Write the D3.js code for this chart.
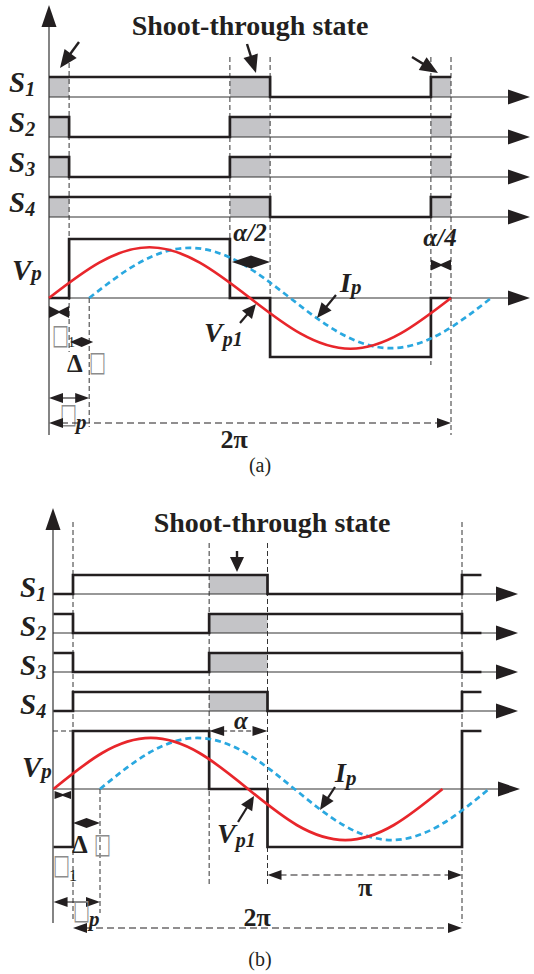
<!DOCTYPE html>
<html><head><meta charset="utf-8">
<script src="https://cdn.jsdelivr.net/npm/d3@7"></script>
<style>body{margin:0;background:#fff}svg{display:block}</style>
</head><body>
<script>
// ---------------- DATA (phase in degrees, levels) ----------------
const switchSubs = ["1", "2", "3", "4"];
const titleText = "Shoot-through state";

// Panel (a)
const aEnd = 360;
const aS1 = [[0, 1], [198, 0], [342, 1]];
const aS2 = [[0, 1], [18, 0], [162, 1]];
const aS3 = [[0, 1], [18, 0], [162, 1]];
const aS4 = [[0, 1], [198, 0], [342, 1]];
const aShade = [[0, 18], [162, 198], [342, 360]];
const aVp = [[0, 0], [18, 1], [162, 0], [198, -1], [342, 0]];
const aVp1 = [[0, 0], [45, 0.6], [90, 0.86], [135, 0.6], [180, 0], [225, -0.6], [270, -0.86], [315, -0.6], [360, 0]];
const aIp = [[36, 0], [81, 0.6], [126, 0.85], [171, 0.6], [216, 0], [261, -0.6], [306, -0.85], [351, -0.6], [396, 0]];
const aGuides = [18, 36, 162, 198, 342, 360];

// Panel (b)
const bStart = -18, bEnd = 378;
const bS1 = [[-18, 0], [0, 1], [180, 0], [360, 1]];
const bS2 = [[-18, 1], [0, 0], [126, 1], [360, 0]];
const bS3 = [[-18, 1], [0, 0], [126, 1], [360, 0]];
const bS4 = [[-18, 0], [0, 1], [180, 0], [360, 1]];
const bShade = [[126, 180]];
const bVp = [[-18, -1], [0, 1], [126, 0], [180, -1], [360, 1]];
const bVp1 = [[-18, 0], [27, 0.62], [72, 0.88], [117, 0.62], [162, 0], [207, -0.62], [252, -0.88], [297, -0.62], [342, 0]];
const bIp = [[25, 0], [70, 0.62], [115, 0.88], [160, 0.62], [205, 0], [250, -0.62], [295, -0.88], [340, -0.62], [385, 0]];
const bGuides = [0, 25, 126, 180, 360];

// ---------------- DRAWING ----------------
const W = 534, H = 974;
const ink = "#231f20", shadeCol = "#c4c4c7", red = "#e8262b", blue = "#2aa8e0", boxCol = "#8c8c8c";
const serif = "'Liberation Serif','Times New Roman',serif";
const svg = d3.select("body").append("svg").attr("width", W).attr("height", H);

function headPath(x1, y1, x2, y2, len, hw) {
  const a = Math.atan2(y2 - y1, x2 - x1), c = Math.cos(a), s = Math.sin(a);
  const bx = x2 - len * c, by = y2 - len * s;
  return `M${x2},${y2}L${bx - hw * s},${by + hw * c}L${bx + hw * s},${by - hw * c}Z`;
}
function head(g, x1, y1, x2, y2, len, hw) {
  g.append("path").attr("d", headPath(x1, y1, x2, y2, len, hw)).attr("fill", ink);
}
function line(g, x1, y1, x2, y2, w, dash, col) {
  const l = g.append("line").attr("x1", x1).attr("y1", y1).attr("x2", x2).attr("y2", y2)
    .attr("stroke", col || ink).attr("stroke-width", w);
  if (dash) l.attr("stroke-dasharray", dash);
  return l;
}
function pointer(g, x1, y1, x2, y2, len, hw, w) {
  const a = Math.atan2(y2 - y1, x2 - x1);
  line(g, x1, y1, x2 - (len - 2) * Math.cos(a), y2 - (len - 2) * Math.sin(a), w || 2.4);
  head(g, x1, y1, x2, y2, len, hw);
}
function dimOut(g, x1, x2, y, len, hw, dash) {
  line(g, x1 + len - 2, y, x2 - len + 2, y, 1.1, dash);
  head(g, x2, y, x1, y, len, hw);
  head(g, x1, y, x2, y, len, hw);
}
function diamond(g, x1, x2, y, hw) {
  const m = (x1 + x2) / 2;
  g.append("path").attr("d", `M${x1},${y}L${m},${y - hw}L${x2},${y}L${m},${y + hw}Z`).attr("fill", ink);
}
function bowtie(g, x1, x2, y, hw) {
  const m = (x1 + x2) / 2;
  g.append("path").attr("d", `M${x1},${y - hw}L${m},${y - 1}L${x2},${y - hw}L${x2},${y + hw}L${m},${y + 1}L${x1},${y + hw}Z`).attr("fill", ink);
}
function txt(g, x, y, s, size, opts = {}) {
  const t = g.append("text").attr("x", x).attr("y", y).text(s)
    .attr("font-family", opts.family || serif).attr("font-size", size)
    .attr("font-weight", opts.weight || "bold").attr("font-style", opts.style || "normal")
    .attr("fill", opts.fill || ink);
  if (opts.anchor) t.attr("text-anchor", opts.anchor);
  return t;
}
function subLabel(g, x, y, main, sub, size, subSize, subDy) {
  const t = g.append("text").attr("x", x).attr("y", y)
    .attr("font-family", serif).attr("font-weight", "bold").attr("font-style", "italic").attr("fill", ink);
  t.append("tspan").attr("font-size", size).text(main);
  t.append("tspan").attr("font-size", subSize).attr("dy", subDy).text(sub);
}
// missing-glyph box, as printed in the reference
function box(g, x, yb) {
  g.append("text").attr("transform", `translate(${x},${yb}) scale(0.72,1.12)`).text("\u25A1")
    .attr("font-family", "'DejaVu Sans'").attr("font-size", 25).attr("fill", boxCol);
}

function drawPanel(cfg) {
  const g = svg.append("g");
  const x = cfg.x;
  const rowY = (i) => (lv) => cfg.rowBase[i] - lv * cfg.rowH;
  const yV = d3.scaleLinear().domain([-1, 1]).range(cfg.vpRange);
  const vz = yV(0);

  cfg.steps.forEach((st, i) => {
    cfg.shade.forEach(s => {
      g.append("rect").attr("x", x(s[0])).attr("y", rowY(i)(1))
        .attr("width", x(s[1]) - x(s[0])).attr("height", cfg.rowH).attr("fill", shadeCol);
    });
  });
  cfg.guides.forEach((p, i) => {
    const e = cfg.guideExt[i];
    line(g, x(p), e[0], x(p), e[1], 1, "5,3", "#333");
  });
  cfg.rowBase.forEach(b => {
    line(g, cfg.axisX, b, cfg.rowEnd - 10, b, 1.1, null, "#333");
    head(g, cfg.axisX, b, cfg.rowEnd, b, 22, 7.5);
  });
  line(g, cfg.axisX, vz, cfg.vpEnd - 10, vz, 1.1, null, "#333");
  head(g, cfg.axisX, vz, cfg.vpEnd, vz, 22, 7.5);
  line(g, cfg.axisX, cfg.axisBottom, cfg.axisX, cfg.axisTop + 10, 1.2, null, "#333");
  head(g, cfg.axisX, cfg.axisBottom, cfg.axisX, cfg.axisTop, 22, 7.5);

  cfg.steps.forEach((st, i) => {
    const pts = st.concat([[cfg.end, st[st.length - 1][1]]]);
    const y = rowY(i);
    g.append("path").attr("d", d3.line().x(d => x(d[0])).y(d => y(d[1])).curve(d3.curveStepAfter)(pts))
      .attr("fill", "none").attr("stroke", ink).attr("stroke-width", 2.7);
  });
  const vpPts = cfg.vp.concat([[cfg.end, cfg.vp[cfg.vp.length - 1][1]]]);
  g.append("path").attr("d", d3.line().x(d => x(d[0])).y(d => yV(d[1])).curve(d3.curveStepAfter)(vpPts))
    .attr("fill", "none").attr("stroke", ink).attr("stroke-width", 2.7);
  const sl = d3.line().x(d => x(d[0])).y(d => yV(d[1])).curve(d3.curveNatural);
  g.append("path").attr("d", sl(cfg.ip)).attr("fill", "none").attr("stroke", blue)
    .attr("stroke-width", 2.7).attr("stroke-dasharray", "6,4");
  g.append("path").attr("d", sl(cfg.vp1)).attr("fill", "none").attr("stroke", red).attr("stroke-width", 2.7);

  txt(g, cfg.titleX, cfg.titleY, titleText, 28, { anchor: "middle" });
  switchSubs.forEach((s, i) => {
    subLabel(g, cfg.sLabelX, cfg.rowBase[i] + cfg.sLabelDy, "S", s, 29, 20, 4);
  });
  return { g, x, yV, vz };
}

// ---- Panel (a)
const xA = d3.scaleLinear().domain([0, 360]).range([49, 451]);
const A = drawPanel({
  x: xA, axisX: 49, axisTop: 5, axisBottom: 435,
  rowBase: [97, 137, 177, 217], rowH: 20, rowEnd: 530,
  steps: [aS1, aS2, aS3, aS4], end: aEnd, shade: aShade,
  vpRange: [357, 239], vpEnd: 530, vp: aVp, vp1: aVp1, ip: aIp,
  guides: aGuides, guideExt: [[63, 352], [298, 427], [57, 298], [57, 298], [57, 365], [57, 435]],
  titleX: 250, titleY: 35, sLabelX: 9, sLabelDy: -5
});
{
  const g = A.g, x = xA;
  pointer(g, 79, 42, 60, 68, 18, 7.5);
  pointer(g, 247, 44, 256, 73, 18, 7.5);
  pointer(g, 412, 57, 438, 73, 18, 7.5);
  subLabel(g, 12, 280, "V", "p", 29, 21, 0);
  subLabel(g, 204, 342, "V", "p1", 28, 20, 4);
  subLabel(g, 340, 292, "I", "p", 28, 21, 2);
  pointer(g, 240, 323, 256, 304, 14, 6.5, 2.2);
  pointer(g, 336, 295, 317, 318, 15, 6.5, 2.2);
  txt(g, 250, 241, "\u03B1/2", 25, { anchor: "middle", style: "italic" });
  diamond(g, x(162) + 2, x(198), 262, 6.5);
  txt(g, 440, 246, "\u03B1/4", 25, { anchor: "middle", style: "italic" });
  bowtie(g, x(342), x(360), 265, 5.5);
  bowtie(g, x(0), x(18), 312, 6);
  box(g, 52, 344);
  txt(g, 68, 347, "1", 14, { weight: "normal" });
  diamond(g, x(18) + 1, x(36) + 4, 342, 5);
  txt(g, 67, 372, "\u0394", 25);
  box(g, 89, 371);
  dimOut(g, x(0), x(36), 398, 14, 5);
  box(g, 60, 423);
  dimOut(g, x(0), x(360), 423, 14, 5, "7,4");
  txt(g, 76, 429, "p", 21, { style: "italic" });
  txt(g, 234, 448, "2\u03C0", 26, { anchor: "middle" });
  txt(g, 260, 472, "(a)", 20, { anchor: "middle", weight: "normal" });
}

// ---- Panel (b)
const xB = d3.scaleLinear().domain([0, 360]).range([73, 462]);
const B = drawPanel({
  x: xB, axisX: 53, axisTop: 508, axisBottom: 923,
  rowBase: [594, 633, 672, 711], rowH: 19, rowEnd: 518,
  steps: [bS1, bS2, bS3, bS4], end: bEnd, shade: bShade,
  vpRange: [847, 731], vpEnd: 520, vp: bVp, vp1: bVp1, ip: bIp,
  guides: bGuides, guideExt: [[522, 920], [789, 913], [543, 887], [543, 887], [522, 923]],
  titleX: 272, titleY: 532, sLabelX: 20, sLabelDy: 3
});
{
  const g = B.g, x = xB;
  pointer(g, 237, 551, 237, 572, 15, 7);
  line(g, 53, 731, x(0), 731, 1, "5,3", "#333");
  dimOut(g, x(126), x(180), 731, 15, 5, "5,3");
  txt(g, 241, 729, "\u03B1", 25, { anchor: "middle", style: "italic" });
  subLabel(g, 22, 777, "V", "p", 29, 21, 1);
  subLabel(g, 217, 843, "V", "p1", 28, 20, 4);
  subLabel(g, 335, 782, "I", "p", 28, 21, 3);
  pointer(g, 238, 822, 254, 796, 14, 6.5, 2.2);
  pointer(g, 335, 787, 320, 810, 15, 6.5, 2.2);
  bowtie(g, x(bStart) + 1, x(0) - 2, 795, 4);
  diamond(g, x(0), x(25), 823, 5);
  txt(g, 72, 853, "\u0394", 25);
  box(g, 94, 853);
  box(g, 53, 874);
  txt(g, 69, 881, "1", 16, { weight: "normal" });
  dimOut(g, x(bStart), x(25), 902, 14, 5);
  box(g, 73, 919);
  txt(g, 89, 926, "p", 21, { style: "italic" });
  dimOut(g, x(0), x(360), 928, 14, 5, "7,4");
  txt(g, 257, 926, "2\u03C0", 26, { anchor: "middle" });
  dimOut(g, x(180), x(360), 875, 14, 5, "7,4");
  txt(g, 365, 896, "\u03C0", 26, { anchor: "middle" });
  txt(g, 260, 966, "(b)", 20, { anchor: "middle", weight: "normal" });
}
</script>
</body></html>
